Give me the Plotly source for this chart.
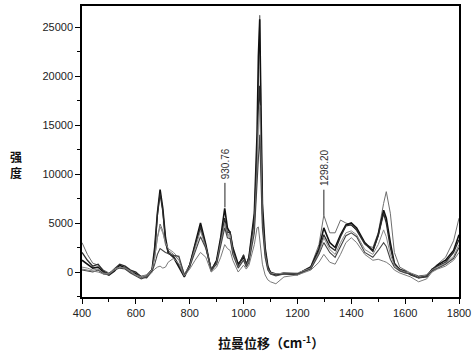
import plotly.graph_objects as go

wavenumber = [400,420,440,460,480,500,520,540,560,580,600,620,640,660,670,680,690,700,710,720,
              740,760,780,800,820,840,860,880,900,915,930,940,950,960,980,1000,1010,1020,1040,1050,
              1055,1060,1065,1070,1080,1090,1100,1120,1150,1200,1250,1280,1298,1320,1340,1360,1380,1400,1420,1450,
              1480,1500,1520,1530,1545,1560,1580,1600,1620,1650,1680,1700,1720,1750,1780,1800]

s1 = [3000,1800,900,700,200,-100,200,600,500,100,-100,-400,-300,300,1500,3500,4900,4200,2800,2200,
      1800,1200,-300,800,2800,4400,2500,300,1200,3000,5000,3800,3500,2200,700,1800,900,1500,5000,12000,
      20000,26200,15000,6000,2000,400,-200,-300,-200,-200,600,2800,5800,4000,4000,5300,5000,4800,4200,2800,
      2500,4000,7000,8200,6000,2000,500,200,-100,-400,-300,300,800,1500,3200,5500]
s2 = [1200,800,400,500,0,-300,100,700,400,0,-200,-600,-400,200,2500,6000,8400,6500,3500,2000,
      1500,500,-500,700,3000,5000,2800,100,1200,3500,6500,4500,4000,2500,800,1500,700,1500,6000,14000,
      22000,25800,16000,7000,2500,600,-100,-300,-100,-200,500,2400,4500,3000,2500,3800,4800,5000,4500,3000,
      2200,3800,6300,5500,3000,900,200,0,-200,-500,-400,200,700,1200,2200,3800]
s3 = [2000,1200,600,800,100,-200,300,800,600,200,0,-500,-600,100,2000,5800,8000,6200,3200,1900,
      1600,700,-400,600,2700,4600,2600,200,1000,3200,5500,4000,4100,2300,600,1700,800,1400,5500,12000,
      17000,19000,13000,6000,2200,500,0,-200,-200,-300,400,2200,3800,2600,2200,3600,4700,4800,4300,2900,
      2100,3700,6000,5000,2500,800,300,100,-300,-600,-500,300,600,1000,2000,3300]
s4 = [500,400,200,300,-100,-200,300,500,400,100,-300,-500,-300,200,1500,3500,4600,4000,3000,2400,
      2000,1400,-200,600,2400,4200,2500,100,900,2800,5000,3800,3800,2000,500,1300,600,1200,4500,10000,
      15000,17000,11000,5000,1800,300,-100,-200,-100,-100,400,2000,3500,2300,1800,3000,4000,4200,3800,2300,
      1800,2800,4300,3600,1800,700,200,0,-100,-500,-300,200,500,900,1600,2800]
s5 = [200,100,0,200,-200,-300,200,400,300,-100,-400,-700,-500,0,800,1800,2400,2200,2000,1900,
      1700,1600,-300,500,2000,3600,2400,200,800,2500,4500,3500,3400,1800,400,1200,500,1000,4000,9000,
      12000,14000,9000,4500,1500,200,-200,-400,-200,-200,300,1800,3000,2000,1500,2600,3700,4000,3600,2000,
      1500,2200,3000,2600,1300,500,100,-100,-200,-600,-400,100,400,800,1400,2500]
s6 = [300,200,100,0,-200,-200,200,500,400,0,-300,-600,-400,0,300,500,600,400,500,1000,
      1400,800,-400,300,1200,2000,1500,0,500,1500,2800,2400,2200,1200,0,700,300,700,2800,4500,
      4600,3500,2000,800,-300,-800,-1000,-1200,-500,-300,200,1000,1800,1000,800,1800,3000,3500,3000,1800,
      1200,1300,1100,1000,700,200,-100,-300,-500,-1000,-700,0,300,600,1200,2000]

series = [s1, s2, s3, s4, s5, s6]
colors = ["#6e6e6e", "#111111", "#2a2a2a", "#8a8a8a", "#444444", "#7a7a7a"]
widths = [1.0, 1.6, 1.3, 1.0, 1.1, 1.0]

peak_labels = ["930.76", "1298.20"]
peak_x = [930.76, 1298.20]
leader_bottom = [6600, 5800]
leader_top = [9100, 8400]

x_ticks = [400, 600, 800, 1000, 1200, 1400, 1600, 1800]
x_tick_text = ["400", "600", "800", "1000", "1200", "1400", "1600", "1800"]
y_ticks = [0, 5000, 10000, 15000, 20000, 25000]
y_tick_text = ["0", "5000", "10000", "15000", "20000", "25000"]

fig = go.Figure()
for s, c, w in zip(series, colors, widths):
    fig.add_trace(go.Scatter(x=wavenumber, y=s, mode="lines",
                             line=dict(color=c, width=w), showlegend=False))

for lab, px, lb, lt in zip(peak_labels, peak_x, leader_bottom, leader_top):
    fig.add_shape(type="line", x0=px, x1=px, y0=lb, y1=lt, xref="x", yref="y",
                  line=dict(color="#222222", width=1))
    fig.add_annotation(x=px, y=lt, xref="x", yref="y", text=lab, showarrow=False,
                       textangle=-90, yanchor="bottom", xanchor="center", yshift=2,
                       font=dict(family="Liberation Sans, Arial", size=10, color="#333333"))

fig.add_annotation(xref="paper", yref="paper", x=-0.175, y=0.455, text="<b>强<br>度</b>",
                   showarrow=False, xanchor="center", yanchor="middle",
                   font=dict(family="Noto Sans CJK SC", size=12, color="#111111"))
fig.add_annotation(xref="paper", yref="paper", x=0.5, y=-0.155, text="<b>拉曼位移（cm<sup>-1</sup>）</b>",
                   showarrow=False, xanchor="center", yanchor="middle",
                   font=dict(family="Noto Sans CJK SC", size=13, color="#111111"))

axis_common = dict(showline=True, linecolor="black", linewidth=1.5, mirror=True,
                   ticks="outside", ticklen=5, tickwidth=1.2, tickcolor="black",
                   showgrid=False, zeroline=False, automargin=False,
                   tickfont=dict(family="Liberation Sans, Arial", size=11, color="#222222"))

fig.update_xaxes(range=[400, 1800], tickvals=x_ticks, ticktext=x_tick_text,
                 minor=dict(ticks="outside", ticklen=3, tickcolor="black", dtick=100, tick0=400),
                 **axis_common)
fig.update_yaxes(range=[-2550, 27150], tickvals=y_ticks, ticktext=y_tick_text,
                 minor=dict(ticks="outside", ticklen=3, tickcolor="black", dtick=2500, tick0=0),
                 **axis_common)

fig.update_layout(width=474, height=354, margin=dict(l=82, r=15, t=6, b=57),
                  plot_bgcolor="white", paper_bgcolor="white", showlegend=False)

fig.write_html("out.html", config={"displayModeBar": False},
               post_script="document.body.style.margin='0';document.body.style.padding='0';")
